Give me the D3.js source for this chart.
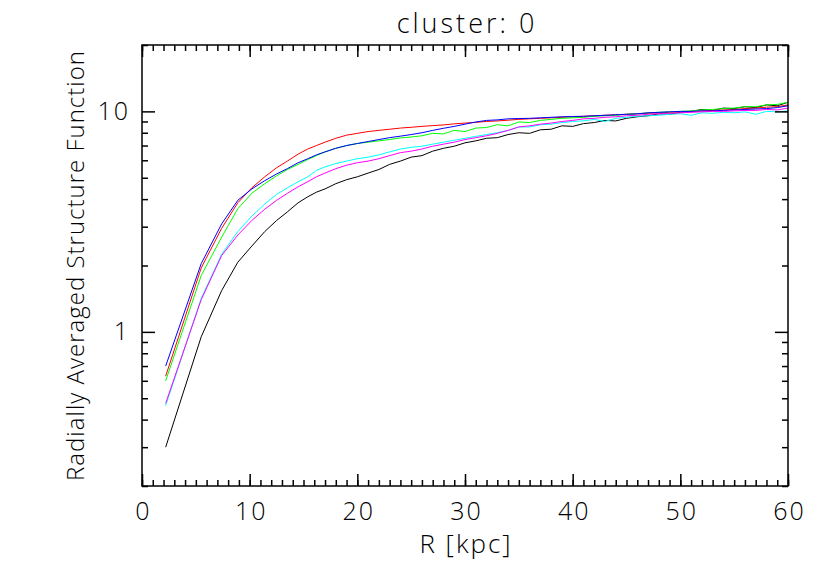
<!DOCTYPE html>
<html>
<head>
<meta charset="utf-8">
<script src="https://cdn.jsdelivr.net/npm/d3@7"></script>
<style>
  body { margin: 0; background: #fff; }
  text { font-family: "Open Sans", "DejaVu Sans", sans-serif; font-weight: 300; fill: #000; }
</style>
</head>
<body>
<div id="container"></div>
<script>
// radial bins (kpc)
const radius = [2.2, 5.5, 7.4, 8.9, 10.2, 11.4, 12.5, 13.5, 14.5, 15.4, 16.2, 17, 18, 19, 20,
  21, 22, 23, 24, 25, 26, 27, 28, 29, 30, 31, 32, 33, 34, 35, 36, 37, 38, 39, 40,
  41, 42, 43, 44, 45, 46, 47, 48, 49, 50, 51, 52, 53, 54, 55, 56, 57, 58, 59, 60];

const blackVals = [0.30, 0.95, 1.54, 2.07, 2.45, 2.85, 3.2, 3.5, 3.85, 4.1, 4.3, 4.45, 4.7, 4.9, 5.05,
  5.25, 5.45, 5.75, 5.95, 6.2, 6.3, 6.6, 6.8, 6.95, 7.2, 7.35, 7.55, 7.6, 7.85, 8.0, 7.95, 8.25, 8.3, 8.6, 8.55,
  8.8, 8.9, 9.1, 9.05, 9.3, 9.45, 9.55, 9.75, 9.7, 9.9, 10.0, 10.2, 10.1, 10.35, 10.3, 10.5, 10.4, 10.7, 10.6, 11.0];
const redVals = [0.63, 1.95, 2.95, 3.85, 4.5, 5.05, 5.55, 5.95, 6.4, 6.75, 7.0, 7.25, 7.55, 7.8, 7.95,
  8.1, 8.2, 8.3, 8.4, 8.47, 8.55, 8.62, 8.68, 8.78, 8.85, 8.92, 9.0, 9.05, 9.12, 9.2, 9.25, 9.3, 9.35, 9.4, 9.45,
  9.5, 9.55, 9.6, 9.65, 9.7, 9.75, 9.8, 9.85, 9.9, 9.95, 10.0, 10.05, 10.1, 10.15, 10.2, 10.3, 10.35, 10.45, 10.5, 10.7];
const greenVals = [0.60, 1.8, 2.69, 3.62, 4.25, 4.7, 5.1, 5.45, 5.75, 6.05, 6.3, 6.55, 6.8, 7.0, 7.15,
  7.25, 7.35, 7.45, 7.58, 7.65, 7.75, 7.95, 7.9, 8.2, 8.1, 8.4, 8.45, 8.7, 8.6, 8.95, 8.9, 9.1, 9.2, 9.3, 9.35,
  9.4, 9.5, 9.55, 9.6, 9.7, 9.75, 9.85, 9.9, 9.95, 10.0, 10.05, 10.15, 10.2, 10.3, 10.35, 10.5, 10.5, 10.7, 10.75, 11.0];
const blueVals = [0.70, 2.04, 3.09, 3.95, 4.45, 4.85, 5.2, 5.5, 5.85, 6.1, 6.35, 6.55, 6.8, 7.0, 7.15,
  7.3, 7.45, 7.6, 7.72, 7.85, 8.0, 8.2, 8.38, 8.55, 8.75, 8.95, 9.1, 9.15, 9.25, 9.28, 9.3, 9.35, 9.4, 9.45, 9.48,
  9.5, 9.55, 9.6, 9.65, 9.7, 9.75, 9.85, 9.9, 9.95, 10.0, 10.0, 10.05, 10.05, 10.1, 10.15, 10.2, 10.25, 10.3, 10.4, 10.6];
const cyanVals = [0.463, 1.42, 2.25, 2.85, 3.35, 3.8, 4.2, 4.5, 4.8, 5.05, 5.4, 5.6, 5.8, 5.95, 6.1,
  6.2, 6.35, 6.55, 6.75, 6.87, 6.95, 7.1, 7.25, 7.4, 7.55, 7.7, 7.85, 8.0, 8.2, 8.5, 8.5, 8.7, 8.75, 8.9, 9.0,
  9.05, 9.2, 9.0, 9.3, 9.4, 9.5, 9.55, 9.6, 9.7, 9.75, 9.6, 9.85, 9.8, 9.9, 9.85, 9.95, 9.7, 10.0, 9.95, 10.05];
const magentaVals = [0.474, 1.40, 2.22, 2.75, 3.2, 3.6, 3.95, 4.25, 4.55, 4.8, 5.05, 5.25, 5.5, 5.7, 5.85,
  5.95, 6.1, 6.3, 6.5, 6.6, 6.75, 6.95, 7.1, 7.25, 7.45, 7.6, 7.75, 7.95, 8.2, 8.5, 8.6, 8.75, 8.85, 9.0, 9.1,
  9.25, 9.3, 9.4, 9.45, 9.55, 9.6, 9.7, 9.75, 9.8, 9.85, 9.9, 9.95, 10.0, 10.0, 10.05, 10.1, 10.1, 10.2, 10.15, 10.35];

const seriesList = [
  {color: "#000000", values: blackVals},
  {color: "#ff0000", values: redVals},
  {color: "#00ff00", values: greenVals},
  {color: "#0000ff", values: blueVals},
  {color: "#00ffff", values: cyanVals},
  {color: "#ff00ff", values: magentaVals}
];

const xTickValues = [0, 10, 20, 30, 40, 50, 60];
const yMajorTicks = [1, 10];
const yMinorTicks = [0.2, 0.3, 0.4, 0.5, 0.6, 0.7, 0.8, 0.9, 2, 3, 4, 5, 6, 7, 8, 9, 20];

const width = 830;
const height = 576;
const marginLeft = 142;
const marginRight = 42;
const marginTop = 45;
const marginBottom = 90;

const x = d3.scaleLinear().domain([0, 60]).range([marginLeft, width - marginRight]);
const y = d3.scaleLog().domain([0.2, 20]).range([height - marginBottom, marginTop]);

const svg = d3.create("svg")
    .attr("width", width)
    .attr("height", height)
    .attr("viewBox", [0, 0, width, height]);

svg.append("rect").attr("width", width).attr("height", height).attr("fill", "#fff");

// data lines
const line = d3.line()
    .x((d, i) => x(radius[i]))
    .y(d => y(d));

svg.append("g")
  .selectAll("path")
  .data(seriesList)
  .join("path")
    .attr("fill", "none")
    .attr("stroke", d => d.color)
    .attr("stroke-width", 1)
    .attr("d", d => line(d.values));

// x axes (bottom with labels, top without) - ticks point inward
const xMinor = d3.range(0, 61, 1);
svg.append("g")
    .attr("transform", `translate(0,${height - marginBottom})`)
    .call(d3.axisBottom(x).tickValues(xMinor).tickSize(-6).tickFormat("").tickSizeOuter(0))
    .call(g => g.select(".domain").remove());
svg.append("g")
    .attr("transform", `translate(0,${height - marginBottom})`)
    .call(d3.axisBottom(x).tickValues(xTickValues).tickSize(-12).tickPadding(16).tickSizeOuter(0))
    .call(g => g.selectAll("text").attr("font-size", 25).attr("font-family", null)
        .attr("letter-spacing", 2).attr("dx", 1))
    .call(g => g.select(".domain").remove());
svg.append("g")
    .attr("transform", `translate(0,${marginTop})`)
    .call(d3.axisTop(x).tickValues(xMinor).tickSize(-6).tickFormat("").tickSizeOuter(0))
    .call(g => g.select(".domain").remove());
svg.append("g")
    .attr("transform", `translate(0,${marginTop})`)
    .call(d3.axisTop(x).tickValues(xTickValues).tickSize(-12).tickFormat("").tickSizeOuter(0))
    .call(g => g.select(".domain").remove());

// y axes (left with labels, right without)
svg.append("g")
    .attr("transform", `translate(${marginLeft},0)`)
    .call(d3.axisLeft(y).tickValues(yMinorTicks).tickSize(-6).tickFormat("").tickSizeOuter(0))
    .call(g => g.select(".domain").remove());
svg.append("g")
    .attr("transform", `translate(${marginLeft},0)`)
    .call(d3.axisLeft(y).tickValues(yMajorTicks).tickSize(-13).tickPadding(12).tickFormat(d3.format("d")).tickSizeOuter(0))
    .call(g => g.selectAll("text").attr("font-size", 25).attr("font-family", null).attr("letter-spacing", 2))
    .call(g => g.select(".domain").remove());
svg.append("g")
    .attr("transform", `translate(${width - marginRight},0)`)
    .call(d3.axisRight(y).tickValues(yMinorTicks).tickSize(-6).tickFormat("").tickSizeOuter(0))
    .call(g => g.select(".domain").remove());
svg.append("g")
    .attr("transform", `translate(${width - marginRight},0)`)
    .call(d3.axisRight(y).tickValues(yMajorTicks).tickSize(-13).tickFormat("").tickSizeOuter(0))
    .call(g => g.select(".domain").remove());

svg.selectAll(".tick line").attr("stroke", "#000").attr("stroke-width", 1.5);

// frame
svg.append("rect")
    .attr("x", marginLeft)
    .attr("y", marginTop)
    .attr("width", width - marginLeft - marginRight)
    .attr("height", height - marginTop - marginBottom)
    .attr("fill", "none")
    .attr("stroke", "#000")
    .attr("stroke-width", 1.5);

// titles
svg.append("text")
    .attr("x", (marginLeft + width - marginRight) / 2 + 2)
    .attr("y", 33)
    .attr("text-anchor", "middle")
    .attr("font-size", 27)
    .attr("letter-spacing", 3)
    .text("cluster: 0");

svg.append("text")
    .attr("x", (marginLeft + width - marginRight) / 2 + 1)
    .attr("y", 553)
    .attr("text-anchor", "middle")
    .attr("font-size", 26)
    .attr("letter-spacing", 2)
    .text("R [kpc]");

svg.append("text")
    .attr("transform", `translate(84,${(marginTop + height - marginBottom) / 2}) rotate(-90)`)
    .attr("text-anchor", "middle")
    .attr("font-size", 24)
    .attr("letter-spacing", 1)
    .text("Radially Averaged Structure Function");

container.append(svg.node());
</script>
</body>
</html>
